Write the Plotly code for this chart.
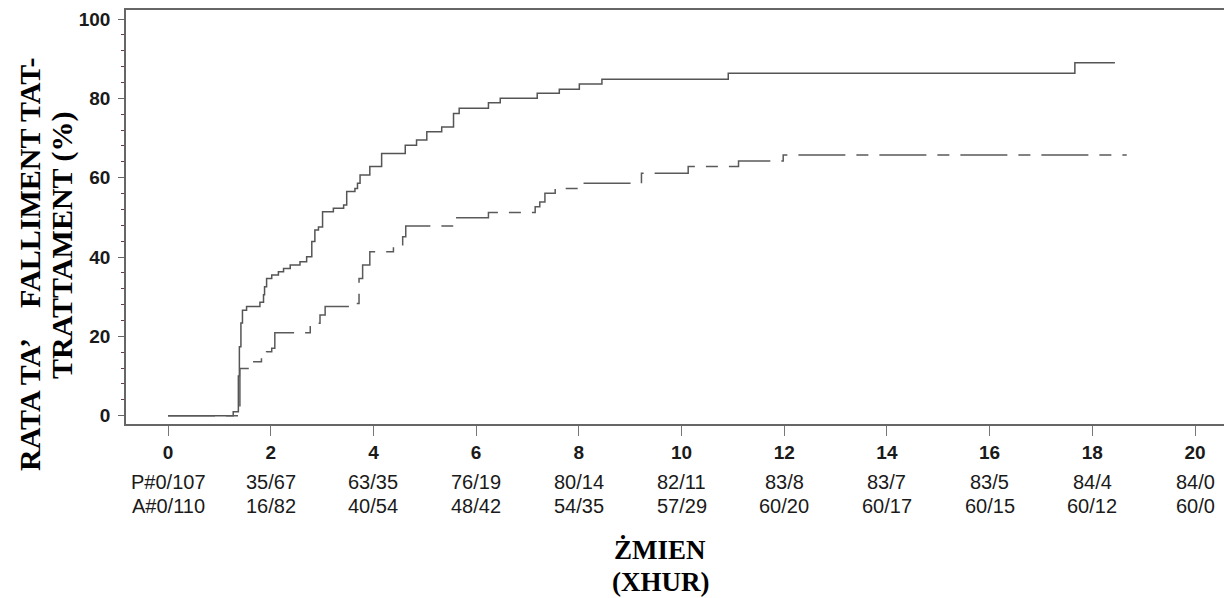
import plotly.graph_objects as go

# ---- data ----
p_time = [0, 1.27, 1.37, 1.39, 1.42, 1.45, 1.53, 1.79, 1.86, 1.88, 1.92, 2.02, 2.15, 2.25,
          2.38, 2.57, 2.70, 2.80, 2.86, 2.93, 3.01, 3.22, 3.42, 3.48, 3.64, 3.69, 3.74,
          3.93, 4.16, 4.62, 4.84, 5.04, 5.33, 5.56, 5.67, 6.24, 6.47, 7.19, 7.62, 8.01,
          8.45, 10.91, 17.66, 18.44]
p_rate = [0, 1, 10, 17.4, 23.4, 26.6, 27.5, 28.6, 30.5, 32.5, 34.6, 35.5, 36.3, 37.1,
          38.0, 38.8, 40.1, 43.9, 46.8, 47.6, 51.4, 52.3, 53.1, 56.5, 57.3, 58.6, 60.7,
          62.8, 66.1, 68.2, 69.5, 71.6, 72.8, 76.2, 77.5, 78.9, 80.0, 81.3, 82.3, 83.6,
          84.8, 86.3, 89.0, 89.0]

a_time = [0, 1.40, 1.59, 1.82, 1.92, 2.02, 2.08, 2.77, 2.96, 3.06, 3.69, 3.72, 3.79, 3.93,
          4.39, 4.57, 4.63, 5.54, 6.24, 7.15, 7.24, 7.34, 7.54, 8.08, 9.22, 10.13, 11.11,
          11.98, 18.67]
a_rate = [0, 11.9, 13.6, 14.9, 16.1, 17.0, 20.9, 23.3, 25.4, 27.5, 28.3, 34.6, 38.0, 41.3,
          42.6, 45.1, 47.8, 49.9, 51.2, 52.7, 53.9, 56.1, 57.3, 58.6, 61.1, 62.8, 64.2,
          65.7, 65.7]

x_ticks = [0, 2, 4, 6, 8, 10, 12, 14, 16, 18, 20]
p_counts = ["P#0/107", "35/67", "63/35", "76/19", "80/14", "82/11", "83/8", "83/7", "83/5", "84/4", "84/0"]
a_counts = ["A#0/110", "16/82", "40/54", "48/42", "54/35", "57/29", "60/20", "60/17", "60/15", "60/12", "60/0"]
y_ticks = [0, 20, 40, 60, 80, 100]

y_title_1 = "RATA TA’\u00a0\u00a0\u00a0\u00a0FALLIMENT TAT-"
y_title_2 = "TRATTAMENT (%)"
x_title_1 = "ŻMIEN"
x_title_2 = "(XHUR)"

SANS = "Arial, Liberation Sans, sans-serif"
SERIF = "Times New Roman, Liberation Serif, serif"

# page pixel -> paper coordinates (plot area spans x 126..1232, y 10..424 in the page)
def px_x(px):
    return (px - 126) / 1106

def px_y(py):
    return (424 - py) / 414

fig = go.Figure()
fig.add_trace(go.Scatter(x=p_time, y=p_rate, mode="lines", line_shape="hv",
                         line=dict(color="#555555", width=1.5), showlegend=False))
fig.add_trace(go.Scatter(x=a_time, y=a_rate, mode="lines", line_shape="hv",
                         line=dict(color="#5a5a5a", width=1.5, dash="47px,11px,12px,11px"),
                         showlegend=False))

fig.update_xaxes(range=[-0.818, 20.72], tickvals=x_ticks, ticktext=[str(v) for v in x_ticks],
                 ticks="outside", ticklen=10, tickwidth=1.3, tickcolor="#777",
                 showline=True, linecolor="#666", linewidth=1.6, mirror=True,
                 showgrid=False, zeroline=False, automargin=False,
                 tickfont=dict(family=SANS, size=19, color="#1a1a1a", weight="bold"))
fig.update_yaxes(range=[-2.09, 102.27], tickvals=y_ticks,
                 ticks="outside", ticklen=6, tickwidth=1.3, tickcolor="#666",
                 minor=dict(dtick=4, ticks="outside", ticklen=3, tickcolor="#6a3a4a", tickwidth=1.2),
                 showline=True, linecolor="#666", linewidth=1.6,
                 showgrid=False, zeroline=False, ticklabelstandoff=4, automargin=False,
                 tickfont=dict(family=SANS, size=19, color="#1a1a1a", weight="bold"))

ann = []
for xv, pc, ac in zip(x_ticks, p_counts, a_counts):
    ann.append(dict(x=xv, xref="x", y=px_y(482), yref="paper", text=pc, showarrow=False,
                    xanchor="center", yanchor="middle",
                    font=dict(family=SANS, size=20, color="#1a1a1a")))
    ann.append(dict(x=xv, xref="x", y=px_y(506), yref="paper", text=ac, showarrow=False,
                    xanchor="center", yanchor="middle",
                    font=dict(family=SANS, size=20, color="#1a1a1a")))
ann.append(dict(x=px_x(660), xref="paper", y=px_y(550), yref="paper",
                text=x_title_1, showarrow=False, xanchor="center", yanchor="middle",
                font=dict(family=SERIF, size=27, color="#000", weight="bold")))
ann.append(dict(x=px_x(660), xref="paper", y=px_y(582), yref="paper",
                text=x_title_2, showarrow=False, xanchor="center", yanchor="middle",
                font=dict(family=SERIF, size=27, color="#000", weight="bold")))
ann.append(dict(x=px_x(29), xref="paper", y=px_y(265), yref="paper",
                text=y_title_1, textangle=-90, showarrow=False, xanchor="center", yanchor="middle",
                font=dict(family=SERIF, size=30, color="#000", weight="bold")))
ann.append(dict(x=px_x(62), xref="paper", y=px_y(245), yref="paper",
                text=y_title_2, textangle=-90, showarrow=False, xanchor="center", yanchor="middle",
                font=dict(family=SERIF, size=30, color="#000", weight="bold")))

# the page adds an 8px body margin, so the figure is 8px smaller and margins are shifted
fig.update_layout(width=1224, height=590, margin=dict(l=118, r=0, t=2, b=174),
                  paper_bgcolor="white", plot_bgcolor="white", annotations=ann)

fig.write_html("out.html")
